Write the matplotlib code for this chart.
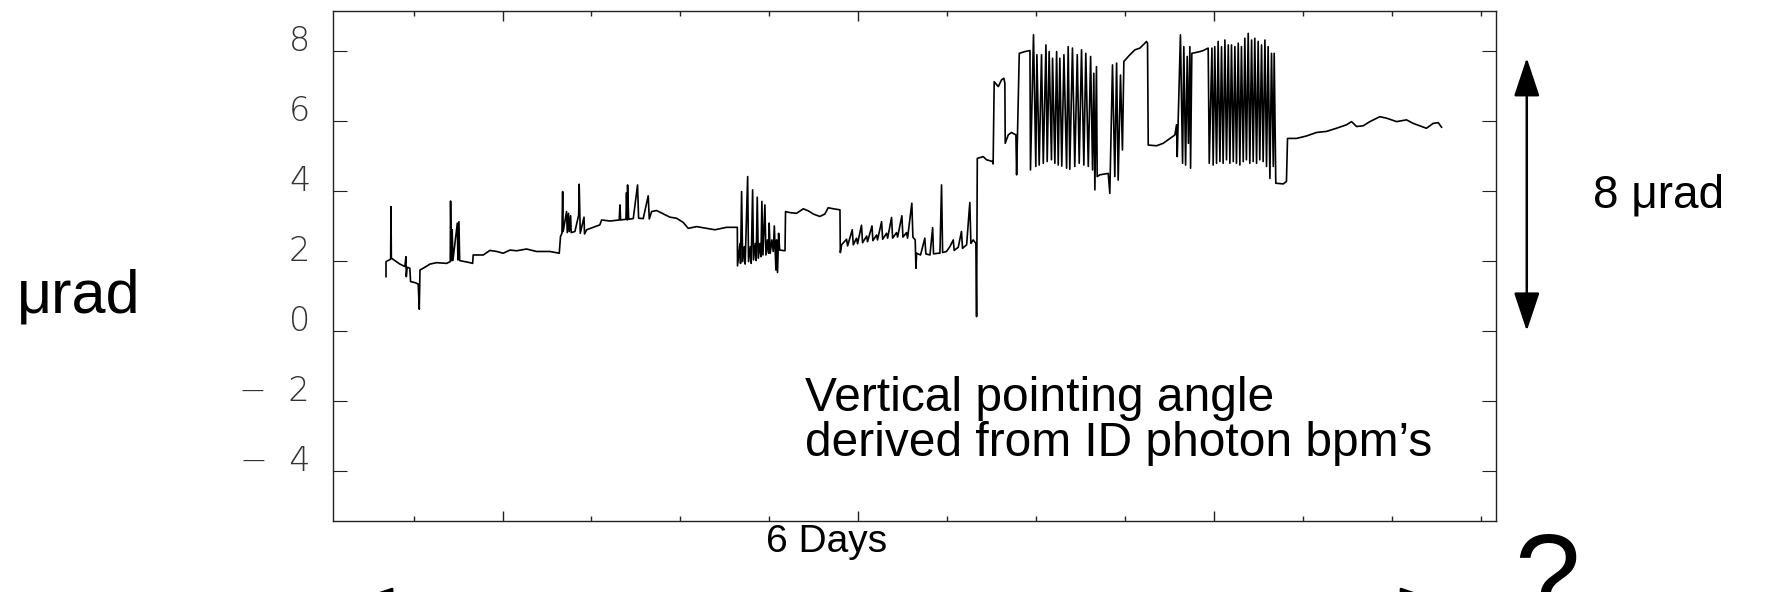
import numpy as np
import matplotlib
matplotlib.use('Agg')
import matplotlib.pyplot as plt
from matplotlib import font_manager
from matplotlib.font_manager import FontProperties

# time axis in days, pointing angle in microradians
days = [
    0.345, 0.345, 0.371, 0.373, 0.375, 0.395, 0.423, 0.451, 0.457, 0.459, 0.464, 0.479,
    0.483, 0.508, 0.526, 0.532, 0.536, 0.564, 0.592, 0.629, 0.686, 0.706, 0.708, 0.712,
    0.717, 0.721, 0.746, 0.749, 0.755, 0.759, 0.789, 0.817, 0.832, 0.835, 0.892, 0.929,
    0.967, 1.004, 1.042, 1.079, 1.135, 1.191, 1.266, 1.319, 1.326, 1.334, 1.338, 1.341,
    1.360, 1.364, 1.371, 1.375, 1.383, 1.386, 1.407, 1.428, 1.431, 1.437, 1.458, 1.461,
    1.473, 1.510, 1.547, 1.557, 1.604, 1.656, 1.660, 1.664, 1.694, 1.697, 1.701, 1.703,
    1.709, 1.735, 1.759, 1.765, 1.791, 1.819, 1.825, 1.838, 1.866, 1.941,
    1.978, 2.016, 2.044, 2.091, 2.147, 2.194, 2.260, 2.320,
    2.321, 2.335, 2.338, 2.344, 2.350, 2.359, 2.364, 2.378, 2.383, 2.393, 2.398, 2.406,
    2.411, 2.421, 2.426, 2.432, 2.438, 2.447, 2.453, 2.458, 2.464, 2.475, 2.481, 2.490,
    2.496, 2.499, 2.505, 2.514, 2.522, 2.528, 2.533, 2.537, 2.541, 2.546, 2.552, 2.558,
    2.588, 2.591, 2.616, 2.653, 2.691, 2.719, 2.747, 2.784, 2.812, 2.831, 2.859, 2.897,
    2.899, 2.906,
    2.934, 2.940, 2.966, 2.972, 2.990, 2.996, 3.018, 3.024, 3.047, 3.052, 3.077, 3.082,
    3.103, 3.108, 3.131, 3.137, 3.159, 3.165, 3.187, 3.193, 3.215, 3.221, 3.245, 3.251,
    3.271, 3.277, 3.301, 3.307, 3.320, 3.324, 3.328,
    3.350, 3.374, 3.380, 3.403, 3.418, 3.423, 3.449,
    3.459, 3.468, 3.474, 3.496, 3.515, 3.534, 3.539, 3.562, 3.580, 3.586, 3.609, 3.627,
    3.633, 3.646, 3.661, 3.665, 3.669, 3.702, 3.721, 3.755, 3.758, 3.764, 3.787, 3.805,
    3.818, 3.824, 3.826, 3.843, 3.861, 3.886, 3.890, 3.895, 3.905, 3.936, 3.965,
    3.968, 3.985, 3.998, 4.004, 4.017, 4.030, 4.040, 4.055, 4.062, 4.073, 4.086, 4.092,
    4.105, 4.115, 4.124, 4.133, 4.144, 4.156, 4.171, 4.180, 4.189, 4.204, 4.217, 4.231,
    4.242, 4.255, 4.268, 4.279, 4.293, 4.306, 4.317, 4.324, 4.330, 4.339,
    4.343, 4.358, 4.405, 4.414, 4.429, 4.442, 4.452, 4.461, 4.474, 4.485, 4.493, 4.527,
    4.555, 4.583, 4.611, 4.620, 4.626, 4.630, 4.677, 4.714, 4.752, 4.780, 4.789,
    4.793, 4.811, 4.823, 4.830, 4.840, 4.849, 4.856, 4.864, 4.868, 4.875, 4.920,
    4.939, 4.967, 4.973,
    4.988, 4.995, 5.004, 5.014, 5.023, 5.033, 5.042, 5.051, 5.061, 5.070, 5.080, 5.089,
    5.098, 5.108, 5.117, 5.126, 5.136, 5.145, 5.154, 5.164, 5.173, 5.182, 5.192, 5.201,
    5.211, 5.220, 5.229, 5.239, 5.248, 5.257, 5.267, 5.276, 5.286, 5.295, 5.304, 5.314,
    5.323, 5.333, 5.338,
    5.347, 5.389, 5.407, 5.413, 5.464, 5.520, 5.576, 5.632, 5.688, 5.745, 5.773, 5.801,
    5.838, 5.876, 5.932, 5.969, 6.026, 6.082, 6.119, 6.157, 6.194, 6.232, 6.260, 6.279,
]
urad = [
    1.55, 1.98, 2.05, 3.55, 2.08, 2.01, 1.91, 1.84, 2.12, 1.55, 1.82, 1.79,
    1.41, 1.38, 1.34, 0.62, 1.74, 1.82, 1.91, 1.95, 1.93, 1.98, 3.71, 2.01,
    2.89, 2.01, 3.08, 2.03, 3.12, 2.01, 1.98, 1.95, 1.93, 2.17, 2.17, 2.30,
    2.27, 2.22, 2.31, 2.29, 2.34, 2.27, 2.27, 2.22, 2.70, 2.79, 3.98, 2.84,
    3.41, 2.81, 3.36, 2.84, 3.29, 2.81, 2.84, 3.31, 4.19, 2.79, 3.25, 2.77,
    2.89, 2.96, 3.03, 3.17, 3.14, 3.17, 3.60, 3.17, 3.19, 3.95, 3.17, 4.17,
    3.19, 3.21, 4.17, 3.22, 3.21, 3.86, 3.20, 3.41, 3.44, 3.25,
    3.22, 3.10, 2.93, 2.98, 2.93, 2.89, 2.96, 2.96,
    1.86, 2.50, 1.93, 3.98, 1.98, 2.41, 1.91, 4.41, 1.98, 2.41, 1.93, 4.03,
    2.03, 2.50, 2.01, 3.82, 2.08, 2.50, 2.12, 3.70, 2.17, 3.60, 2.17, 2.60,
    2.22, 3.08, 2.22, 2.60, 2.27, 3.00, 2.31, 1.74, 2.60, 1.67, 2.79, 2.31,
    2.29, 3.41, 3.38, 3.36, 3.49, 3.43, 3.34, 3.27, 3.34, 3.52, 3.49, 3.46,
    2.24, 2.46,
    2.62, 2.43, 2.89, 2.46, 2.65, 2.49, 3.02, 2.52, 2.71, 2.55, 3.00, 2.58,
    2.74, 2.60, 3.12, 2.62, 2.79, 2.65, 3.24, 2.65, 2.81, 2.68, 3.29, 2.68,
    2.81, 2.65, 3.65, 2.68, 2.60, 1.79, 2.22,
    2.17, 2.65, 2.20, 2.17, 2.95, 2.20, 2.22,
    2.22, 4.17, 2.24, 2.27, 2.41, 2.60, 2.30, 2.39, 2.84, 2.36, 2.46, 3.67,
    2.50, 2.60, 2.50, 0.41, 4.93, 4.98, 4.89, 4.84, 4.77, 7.12, 6.98, 7.17,
    7.22, 7.08, 5.36, 5.60, 5.67, 5.60, 4.46, 5.65, 7.93, 7.98, 8.01,
    4.60, 8.46, 4.70, 7.89, 4.74, 7.89, 4.79, 8.17, 4.84, 7.98, 4.89, 7.79,
    4.79, 7.98, 4.74, 7.79, 4.71, 7.89, 4.65, 8.12, 4.62, 8.08, 4.70, 7.89,
    4.79, 8.03, 4.74, 7.93, 4.70, 7.84, 4.60, 7.36, 4.03, 7.55,
    4.41, 4.46, 4.50, 3.93, 7.60, 4.41, 7.65, 4.31, 7.31, 5.17, 7.70, 7.89,
    8.03, 8.08, 8.22, 8.27, 8.22, 5.31, 5.29, 5.36, 5.50, 5.60, 5.89,
    4.98, 8.46, 4.79, 8.12, 4.74, 7.84, 5.36, 8.12, 4.65, 7.93, 7.98,
    8.01, 8.08, 4.79,
    8.08, 4.74, 8.12, 4.79, 8.27, 4.84, 8.12, 4.79, 8.31, 4.89, 8.17, 4.79,
    8.17, 4.84, 8.12, 4.79, 8.22, 4.74, 8.12, 4.84, 8.36, 4.89, 8.50, 4.79,
    8.31, 4.84, 8.36, 4.79, 8.27, 4.89, 8.17, 4.84, 8.31, 4.70, 8.12, 4.36,
    7.93, 4.70, 7.93,
    4.22, 4.20, 4.27, 5.50, 5.50, 5.57, 5.67, 5.70, 5.79, 5.89, 5.98, 5.84,
    5.86, 5.98, 6.12, 6.08, 5.98, 6.03, 5.93, 5.86, 5.79, 5.93, 5.95, 5.82,
]

ytick_vals = [-4, -2, 0, 2, 4, 6, 8]
ytick_text = ['\u2212  4', '\u2212  2', '0', '2', '4', '6', '8']
xmajor = [1, 3, 5]

txt_font = 'Liberation Sans'

# narrow face for "6 Days" and a thin face for the tick numbers, if present
fonts = font_manager.fontManager.ttflist
names = {f.name for f in fonts}
narrow_font = 'Liberation Sans Narrow' if 'Liberation Sans Narrow' in names else txt_font
thin_files = [f.fname for f in fonts if f.name == 'DejaVu Sans' and 'ExtraLight' in f.fname]
if thin_files:
    tick_fp = FontProperties(fname=thin_files[0], size=24)
else:
    tick_fp = FontProperties(family='Roboto', weight=100, size=28)

fig = plt.figure(figsize=(17.71, 5.92), dpi=100)
ax = fig.add_axes([333 / 1771, 71 / 592, 1163 / 1771, 510 / 592])

ax.plot(days, urad, color='black', lw=1.2)

ax.set_xlim(0.047, 6.585)
ax.set_ylim(-5.43, 9.14)

ax.set_xticks(xmajor)
ax.set_xticks(np.arange(0.5, 6.6, 0.5), minor=True)
ax.set_yticks(ytick_vals)
ax.set_yticklabels(ytick_text, fontproperties=tick_fp, color='#333333')
for lbl in ax.get_yticklabels():
    lbl.set_verticalalignment('baseline')

ax.tick_params(axis='both', which='both', direction='in', top=True, right=True,
               labelbottom=False, color='#222222')
ax.tick_params(axis='x', which='major', length=7, width=1)
ax.tick_params(axis='x', which='minor', length=3.6, width=1)
ax.tick_params(axis='y', which='major', length=10, width=0.8, pad=16.5)
for sp in ax.spines.values():
    sp.set_linewidth(1.0)
    sp.set_color('#222222')

# annotation inside the frame
ax.text(0.4055, 0.284, 'Vertical pointing angle\nderived from ID photon bpm\u2019s',
        transform=ax.transAxes, ha='left', va='top', fontsize=34.5,
        linespacing=1.0, family=txt_font)

# 8 urad span arrow on the right
arrow_style = dict(arrowstyle='<|-|>,head_length=2.4,head_width=0.8', lw=1.8,
                   color='black', shrinkA=0, shrinkB=0, mutation_scale=10)
ax.annotate('', xy=(6.758, 7.8), xytext=(6.758, 0), arrowprops=arrow_style,
            annotation_clip=False)
# time span arrow below the axis (mostly cut off by the figure edge)
ax.annotate('', xy=(6.26, -7.69), xytext=(0.17, -7.69), arrowprops=arrow_style,
            annotation_clip=False)

fig.text(17 / 1771, (592 - 313) / 592, '\u03bcrad', fontsize=44, family=txt_font,
         ha='left', va='baseline')
fig.text(1593 / 1771, (592 - 207) / 592, '8 \u03bcrad', fontsize=33, family=txt_font,
         ha='left', va='baseline')
fig.text(827 / 1771, (592 - 552) / 592, '6 Days', fontsize=28, family=narrow_font,
         ha='center', va='baseline')
fig.text(1547 / 1771, -0.042, '?', fontsize=85, family=txt_font,
         ha='center', va='baseline')

fig.savefig('out.png', dpi=100)
